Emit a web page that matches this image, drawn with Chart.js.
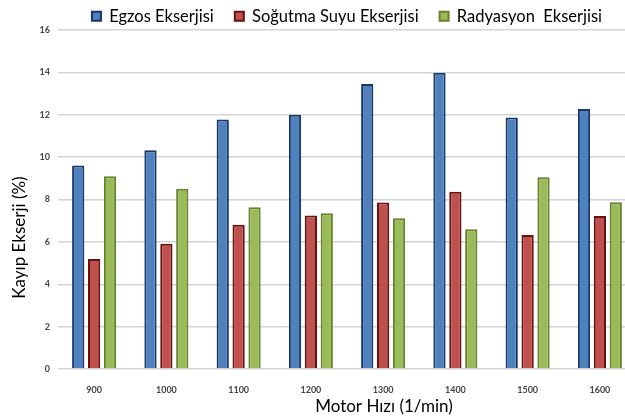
<!DOCTYPE html>
<html>
<head>
<meta charset="utf-8">
<script src="https://cdn.jsdelivr.net/npm/chart.js@4"></script>
<style>
  html, body { margin: 0; padding: 0; overflow: hidden; background: #fff; }
  #wrap { position: absolute; left: 0; top: 0; }
</style>
</head>
<body>
<div id="wrap"><canvas id="myChart" width="637" height="419"></canvas></div>
<script>
// motor speeds (1/min)
const speeds = ['900', '1000', '1100', '1200', '1300', '1400', '1500', '1600'];

// lost exergy (%)
const egzos = [9.6, 10.33, 11.78, 12.0, 13.45, 13.98, 11.87, 12.27];
const sogutma = [5.19, 5.91, 6.81, 7.25, 7.86, 8.37, 6.32, 7.22];
const radyasyon = [9.1, 8.51, 7.63, 7.35, 7.11, 6.59, 9.05, 7.87];

const yTicks = [0, 2, 4, 6, 8, 10, 12, 14, 16];

const yTitle = 'Kayıp Ekserji (%)';
const xTitle = 'Motor Hızı (1/min)';

// axis titles sit off-centre in the original, so draw them by hand
const axisTitles = {
    id: 'axisTitles',
    afterDraw(chart) {
        const c = chart.ctx;
        const a = chart.chartArea;
        c.save();
        c.fillStyle = '#000';
        c.font = '17px Lato';
        c.textAlign = 'center';
        c.textBaseline = 'middle';
        c.fillText(xTitle, (a.left + a.right) / 2 + 37, a.bottom + 38);
        c.translate(a.left - 38, (a.top + a.bottom) / 2 + 38);
        c.rotate(-Math.PI / 2);
        c.fillText(yTitle, 0, 0);
        c.restore();
    }
};

const ctx = document.getElementById('myChart').getContext('2d');
const myChart = new Chart(ctx, {
    type: 'bar',
    data: {
        labels: speeds,
        datasets: [{
            label: 'Egzos Ekserjisi',
            data: egzos,
            backgroundColor: '#4f81bd',
            borderColor: '#17366b',
            borderWidth: 2
        }, {
            label: 'Soğutma Suyu Ekserjisi',
            data: sogutma,
            backgroundColor: '#c0504d',
            borderColor: '#661310',
            borderWidth: 2
        }, {
            label: 'Radyasyon  Ekserjisi',
            data: radyasyon,
            backgroundColor: '#9bbb59',
            borderColor: '#64832f',
            borderWidth: 2
        }]
    },
    options: {
        responsive: false,
        animation: false,
        categoryPercentage: 0.66,
        barPercentage: 0.77,
        layout: {
            padding: { top: -13, right: 1, left: 0, bottom: 0 }
        },
        plugins: {
            legend: {
                position: 'top',
                fullSize: false,
                maxHeight: 43,
                labels: {
                    boxWidth: 9,
                    boxHeight: 9,
                    padding: 21,
                    color: '#000',
                    font: { family: 'Lato', size: 16.5 }
                }
            },
            tooltip: { enabled: false }
        },
        scales: {
            x: {
                grid: { display: false },
                border: { display: false },
                ticks: {
                    color: '#444',
                    padding: 8,
                    font: { family: 'Lato', size: 9, weight: 'bold' }
                },
                afterFit: scale => { scale.height = 50; }
            },
            y: {
                min: 0,
                max: 16,
                afterBuildTicks: scale => {
                    scale.ticks = yTicks.map(v => ({ value: v }));
                },
                grid: {
                    color: '#d4d4d4',
                    lineWidth: 1.5,
                    drawTicks: false
                },
                border: { display: false },
                ticks: {
                    color: '#444',
                    padding: 8,
                    font: { family: 'Lato', size: 9, weight: 'bold' }
                },
                afterFit: scale => { scale.width = 58; }
            }
        }
    },
    plugins: [axisTitles]
});
</script>
</body>
</html>
